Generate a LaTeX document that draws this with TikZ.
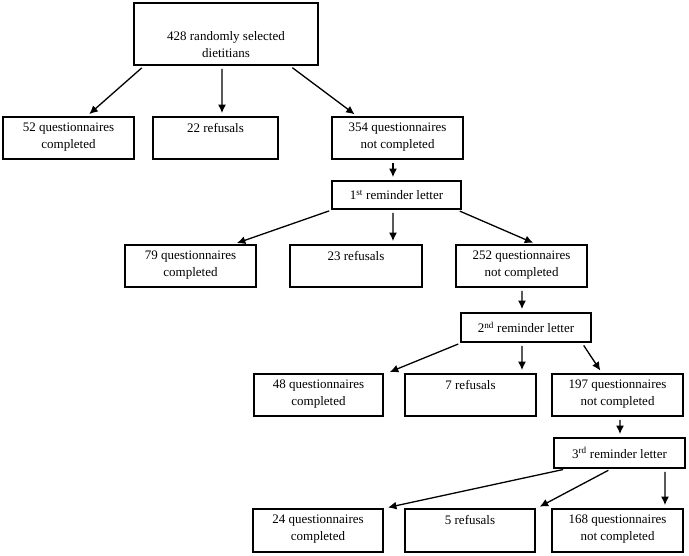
\documentclass[tikz,border=0pt]{standalone}
\usepackage{fontspec}
\setmainfont{Liberation Serif}
\usetikzlibrary{arrows.meta}

\begin{document}
\begin{tikzpicture}[x=1bp,y=-1bp,
        box/.style={draw,line width=1.8bp,inner sep=0pt},
        row/.style={box,minimum width=131bp,minimum height=42bp},
        rem/.style={box,minimum width=130bp,minimum height=29bp,font=\fontsize{13bp}{17bp}\selectfont},
        txt/.style={anchor=north,align=center,inner sep=2bp,font=\fontsize{13bp}{17bp}\selectfont},
        arr/.style={-{Latex[length=8.5bp,width=8bp]},line width=1.3bp,shorten <=3bp,shorten >=3bp}]
        \useasboundingbox (0,0) rectangle (689,556);

        % start
        \node[box,minimum width=184bp,minimum height=62bp] (top) at (226,34) {};
        \node[txt,anchor=center] (ttop) at ([yshift=-11bp]top.center) {428 randomly selected\\dietitians};

        % first mailing
        \node[row] (q1a) at (68.5,138) {};
        \node[row,minimum width=125bp] (q1b) at (215.5,138) {};
        \node[row] (q1c) at (397.5,138) {};
        \node[txt] (t1a) at ([yshift=-5bp]q1a.north) {52 questionnaires\\completed};
        \node[txt] (t1b) at ([yshift=-5bp]q1b.north) {22 refusals};
        \node[txt] (t1c) at ([yshift=-5bp]q1c.north) {354 questionnaires\\not completed};

        \draw[arr] ([xshift=-82bp]top.south) -- ([xshift=18.5bp]q1a.north);
        \draw[arr] ([xshift=-4bp]top.south) -- ([xshift=6.5bp]q1b.north);
        \draw[arr] ([xshift=64bp]top.south) -- ([xshift=-40.5bp]q1c.north);

        % 1st reminder
        \node[rem,minimum width=129bp,minimum height=28bp] (rem1) at (396.5,195) {1\textsuperscript{st} reminder letter};
        \draw[arr] ([xshift=-4.5bp]q1c.south) -- ([xshift=-3.5bp]rem1.north);

        \node[row] (q2a) at (190.5,266) {};
        \node[row,minimum width=132bp] (q2b) at (356,266) {};
        \node[row] (q2c) at (521.5,266) {};
        \node[txt] (t2a) at ([yshift=-5bp]q2a.north) {79 questionnaires\\completed};
        \node[txt] (t2b) at ([yshift=-5bp]q2b.north) {23 refusals};
        \node[txt] (t2c) at ([yshift=-5bp]q2c.north) {252 questionnaires\\not completed};

        \draw[arr] ([xshift=-64.5bp]rem1.south) -- ([xshift=43.5bp]q2a.north);
        \draw[arr] ([xshift=-3.5bp]rem1.south) -- ([xshift=37bp]q2b.north);
        \draw[arr] ([xshift=60.5bp]rem1.south) -- ([xshift=14.5bp]q2c.north);

        % 2nd reminder
        \node[rem] (rem2) at (526,327.5) {2\textsuperscript{nd} reminder letter};
        \draw[arr] ([xshift=0.5bp]q2c.south) -- ([xshift=-4bp]rem2.north);

        \node[row,minimum width=129bp] (q3a) at (318.5,395) {};
        \node[row] (q3b) at (470.5,395) {};
        \node[row] (q3c) at (617.5,395) {};
        \node[txt] (t3a) at ([yshift=-5bp]q3a.north) {48 questionnaires\\completed};
        \node[txt] (t3b) at ([yshift=-5bp]q3b.north) {7 refusals};
        \node[txt] (t3c) at ([yshift=-5bp]q3c.north) {197 questionnaires\\not completed};

        \draw[arr] ([xshift=-65bp]rem2.south) -- ([xshift=68.5bp]q3a.north);
        \draw[arr] ([xshift=-4bp]rem2.south) -- ([xshift=51.5bp]q3b.north);
        \draw[arr] ([xshift=56bp]rem2.south) -- ([xshift=-15.5bp]q3c.north);

        % 3rd reminder
        \node[rem,minimum width=131bp,minimum height=30bp] (rem3) at (619.5,453) {3\textsuperscript{rd} reminder letter};
        \draw[arr] ([xshift=2.5bp]q3c.south) -- ([xshift=0.5bp]rem3.north);

        \node[row,minimum width=130bp,minimum height=43bp] (q4a) at (318,530.5) {};
        \node[row,minimum width=130bp,minimum height=43bp] (q4b) at (470,530.5) {};
        \node[row,minimum height=43bp] (q4c) at (617.5,530.5) {};
        \node[txt] (t4a) at ([yshift=-5bp]q4a.north) {24 questionnaires\\completed};
        \node[txt] (t4b) at ([yshift=-5bp]q4b.north) {5 refusals};
        \node[txt] (t4c) at ([yshift=-5bp]q4c.north) {168 questionnaires\\not completed};

        \draw[arr] ([xshift=-53.5bp]rem3.south) -- ([xshift=67bp]q4a.north);
        \draw[arr] ([xshift=-8.5bp]rem3.south) -- ([xshift=67bp]q4b.north);
        \draw[arr] ([xshift=45.5bp]rem3.south) -- ([xshift=47.5bp]q4c.north);

    \end{tikzpicture}
\end{document}
